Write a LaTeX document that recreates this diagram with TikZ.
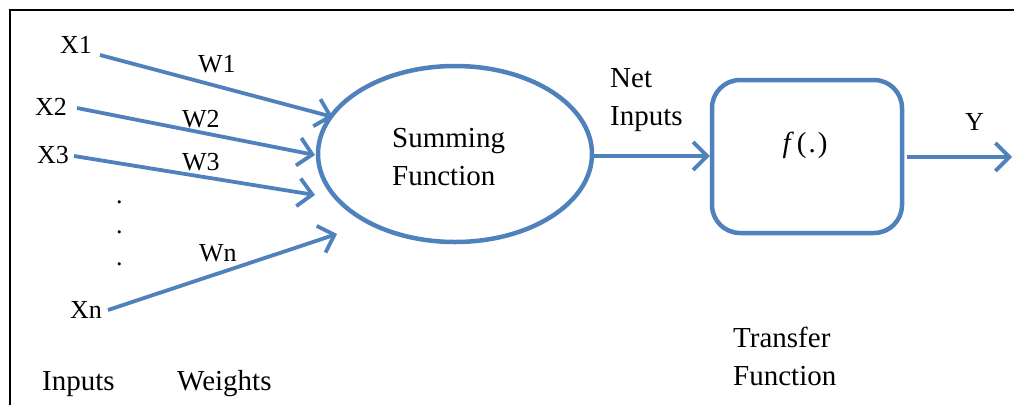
\documentclass[tikz,border=0pt]{standalone}
\usepackage{fontspec}
\setmainfont{Liberation Serif}
\usetikzlibrary{arrows.meta,shapes.geometric}
\definecolor{ob}{HTML}{4F81BD}
\begin{document}
\begin{tikzpicture}[x=1pt,y=-1pt,
  big/.style={font=\fontsize{29}{35}\selectfont, inner sep=0pt, anchor=base west},
  small/.style={font=\fontsize{26}{31}\selectfont, inner sep=0pt, anchor=base west},
  conn/.style={draw=ob, line width=3.8pt, -{Straight Barb[length=14pt,width=28pt]}},
  shapeline/.style={draw=ob, line width=4.5pt}
]
\useasboundingbox (0,0) rectangle (1014,405);
% frame
\draw[line width=2.4pt] (10,405) -- (10,10) -- (1014,10);

% labels
\node[small] (x1) at (60,53) {X1};
\node[small] (w1) at (198,72) {W1};
\node[small] (x2) at (35,115) {X2};
\node[small] (w2) at (182,127) {W2};
\node[small] (x3) at (37,163) {X3};
\node[small] (w3) at (182,170) {W3};
\node[small] (d1) at (116,203) {.};
\node[small] (d2) at (116,233) {.};
\node[small] (d3) at (116,265) {.};
\node[small] (wn) at (199,261) {Wn};
\node[small] (xn) at (70,318) {Xn};
\node[big] (inp) at (42,390) {Inputs};
\node[big] (wts) at (177,390) {Weights};

% summing ellipse
\node[shapeline, ellipse, minimum width=274pt, minimum height=176pt, inner sep=0pt] (sum) at (455,154) {};
\node[big] (s1) at (392,147) {Summing};
\node[big] (s2) at (392,185) {Function};

% transfer box
\node[shapeline, rounded corners=28pt, minimum width=190pt, minimum height=153pt, inner sep=0pt] (tf) at (807,156.5) {};
\node[font=\fontsize{29}{34}\selectfont, inner sep=0pt, anchor=base] (fx) at (805,152) {\textit{f}\kern3pt(\kern2pt.\kern2pt)};
\node[big] (net1) at (610,87) {Net};
\node[big] (net2) at (610,125) {Inputs};
\node[small] (y) at (965,130) {Y};
\node[big] (t1) at (733,347) {Transfer};
\node[big] (t2) at (733,385) {Function};

% connector end points
\coordinate (s1a) at (100,55);  \coordinate (e1a) at (333,117);
\coordinate (s2a) at (77,108);  \coordinate (e2a) at (315,155);
\coordinate (s3a) at (74,156);  \coordinate (e3a) at (315,195);
\coordinate (sna) at (108,310); \coordinate (ena) at (337,234);
\coordinate (outs) at (907,157); \coordinate (oute) at (1012,157);

\draw[conn] (s1a) -- (e1a);
\draw[conn] (s2a) -- (e2a);
\draw[conn] (s3a) -- (e3a);
\draw[conn] (sna) -- (ena);
\draw[conn] (sum.east |- 0,156) -- (tf.west |- 0,156);
\draw[conn] (outs) -- (oute);
\end{tikzpicture}
\end{document}
